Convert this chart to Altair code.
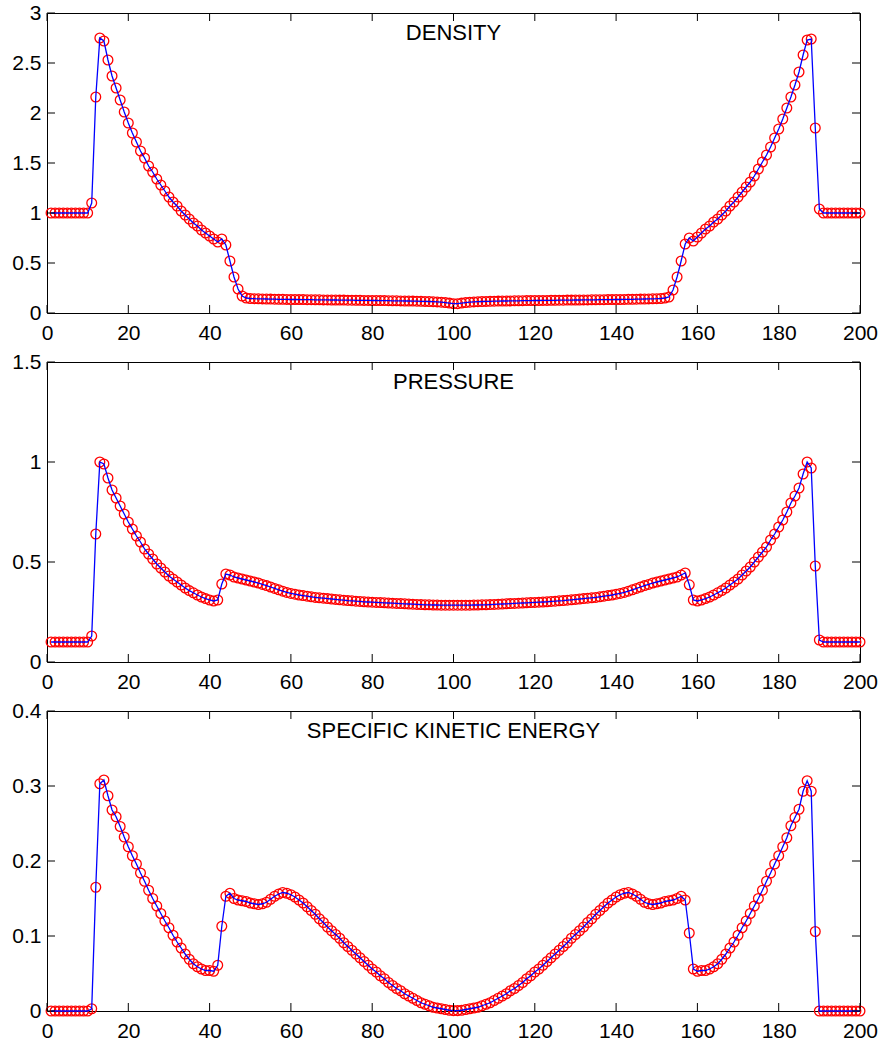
import altair as alt
import pandas as pd

# ---------------- data ----------------
x_vals = list(range(1, 201))

density = [
    1.0, 1.0, 1.0, 1.0, 1.0, 1.0, 1.0, 1.0, 1.0, 1.0,
    1.10, 2.16, 2.75, 2.72, 2.53, 2.37, 2.25, 2.13, 2.01, 1.90,
    1.80, 1.71, 1.62, 1.55, 1.47, 1.41, 1.34, 1.28, 1.22, 1.16,
    1.11, 1.07, 1.02, 0.98, 0.94, 0.90, 0.87, 0.83, 0.80, 0.77,
    0.74, 0.71, 0.74, 0.68, 0.52, 0.36, 0.24, 0.17, 0.15, 0.145,
    0.143, 0.142, 0.141, 0.140, 0.139, 0.138, 0.137, 0.137, 0.136, 0.135,
    0.135, 0.134, 0.134, 0.133, 0.133, 0.132, 0.132, 0.131, 0.131, 0.130,
    0.130, 0.129, 0.129, 0.128, 0.128, 0.127, 0.127, 0.126, 0.126, 0.125,
    0.125, 0.124, 0.124, 0.123, 0.122, 0.122, 0.121, 0.120, 0.120, 0.119,
    0.118, 0.117, 0.116, 0.115, 0.113, 0.111, 0.108, 0.104, 0.099, 0.093,
    0.093, 0.099, 0.104, 0.108, 0.111, 0.113, 0.115, 0.116, 0.117, 0.118,
    0.119, 0.120, 0.120, 0.121, 0.122, 0.122, 0.123, 0.124, 0.124, 0.125,
    0.125, 0.126, 0.126, 0.127, 0.127, 0.128, 0.128, 0.129, 0.129, 0.130,
    0.130, 0.131, 0.131, 0.132, 0.132, 0.133, 0.133, 0.134, 0.134, 0.135,
    0.135, 0.136, 0.137, 0.137, 0.138, 0.139, 0.140, 0.141, 0.142, 0.143,
    0.145, 0.15, 0.16, 0.23, 0.36, 0.52, 0.69, 0.75, 0.72, 0.76,
    0.80, 0.84, 0.87, 0.91, 0.94, 0.98, 1.02, 1.07, 1.11, 1.16,
    1.21, 1.26, 1.31, 1.37, 1.44, 1.51, 1.58, 1.66, 1.75, 1.84,
    1.94, 2.05, 2.16, 2.28, 2.41, 2.58, 2.73, 2.74, 1.85, 1.04,
    1.0, 1.0, 1.0, 1.0, 1.0, 1.0, 1.0, 1.0, 1.0, 1.0,
]

pressure = [
    0.10, 0.10, 0.10, 0.10, 0.10, 0.10, 0.10, 0.10, 0.10, 0.10,
    0.13, 0.64, 1.00, 0.99, 0.92, 0.86, 0.82, 0.78, 0.74, 0.70,
    0.665, 0.63, 0.60, 0.565, 0.54, 0.515, 0.49, 0.47, 0.45, 0.43,
    0.415, 0.40, 0.385, 0.37, 0.357, 0.346, 0.335, 0.325, 0.317, 0.31,
    0.305, 0.31, 0.39, 0.44, 0.435, 0.425, 0.42, 0.415, 0.41, 0.405,
    0.40, 0.395, 0.388, 0.382, 0.375, 0.368, 0.361, 0.354, 0.348, 0.343,
    0.339, 0.335, 0.332, 0.329, 0.326, 0.323, 0.321, 0.319, 0.317, 0.315,
    0.313, 0.311, 0.309, 0.307, 0.306, 0.304, 0.303, 0.301, 0.300, 0.299,
    0.298, 0.297, 0.296, 0.295, 0.294, 0.293, 0.292, 0.291, 0.290, 0.289,
    0.288, 0.287, 0.286, 0.286, 0.285, 0.285, 0.284, 0.284, 0.284, 0.284,
    0.284, 0.284, 0.284, 0.284, 0.285, 0.285, 0.286, 0.286, 0.287, 0.288,
    0.289, 0.290, 0.291, 0.292, 0.293, 0.294, 0.295, 0.296, 0.297, 0.298,
    0.299, 0.300, 0.301, 0.303, 0.304, 0.306, 0.307, 0.309, 0.311, 0.313,
    0.315, 0.317, 0.319, 0.321, 0.323, 0.326, 0.329, 0.332, 0.335, 0.339,
    0.343, 0.348, 0.354, 0.361, 0.368, 0.375, 0.382, 0.388, 0.395, 0.40,
    0.405, 0.41, 0.415, 0.42, 0.425, 0.435, 0.445, 0.386, 0.31, 0.305,
    0.31, 0.317, 0.325, 0.335, 0.346, 0.357, 0.37, 0.385, 0.40, 0.415,
    0.435, 0.455, 0.475, 0.50, 0.525, 0.55, 0.575, 0.61, 0.64, 0.675,
    0.71, 0.75, 0.795, 0.83, 0.87, 0.94, 1.00, 0.97, 0.48, 0.11,
    0.10, 0.10, 0.10, 0.10, 0.10, 0.10, 0.10, 0.10, 0.10, 0.10,
]

kinetic = [
    0.0, 0.0, 0.0, 0.0, 0.0, 0.0, 0.0, 0.0, 0.0, 0.0,
    0.003, 0.165, 0.303, 0.308, 0.287, 0.268, 0.259, 0.246, 0.232, 0.219,
    0.207, 0.196, 0.184, 0.173, 0.161, 0.150, 0.140, 0.130, 0.120, 0.111,
    0.101, 0.092, 0.084, 0.076, 0.069, 0.063, 0.059, 0.056, 0.054, 0.054,
    0.053, 0.061, 0.113, 0.153, 0.157, 0.150, 0.148, 0.147, 0.146, 0.144,
    0.143, 0.142, 0.143, 0.145, 0.149, 0.153, 0.156, 0.158, 0.157, 0.155,
    0.152, 0.148, 0.144, 0.139, 0.134, 0.129, 0.123, 0.118, 0.112, 0.107,
    0.102, 0.097, 0.091, 0.086, 0.081, 0.076, 0.071, 0.066, 0.061, 0.056,
    0.052, 0.047, 0.043, 0.038, 0.034, 0.030, 0.027, 0.023, 0.020, 0.017,
    0.014, 0.011, 0.009, 0.007, 0.005, 0.004, 0.003, 0.002, 0.001, 0.0005,
    0.0005, 0.001, 0.002, 0.003, 0.004, 0.005, 0.007, 0.009, 0.011, 0.014,
    0.017, 0.020, 0.023, 0.027, 0.030, 0.034, 0.038, 0.043, 0.047, 0.052,
    0.056, 0.061, 0.066, 0.071, 0.076, 0.081, 0.086, 0.091, 0.097, 0.102,
    0.107, 0.112, 0.118, 0.123, 0.129, 0.134, 0.139, 0.144, 0.148, 0.152,
    0.155, 0.157, 0.158, 0.156, 0.153, 0.149, 0.145, 0.143, 0.142, 0.143,
    0.144, 0.146, 0.147, 0.148, 0.150, 0.153, 0.148, 0.104, 0.056, 0.053,
    0.054, 0.054, 0.056, 0.059, 0.063, 0.069, 0.076, 0.084, 0.092, 0.101,
    0.111, 0.120, 0.130, 0.140, 0.150, 0.161, 0.173, 0.184, 0.196, 0.207,
    0.219, 0.231, 0.247, 0.258, 0.269, 0.293, 0.307, 0.293, 0.106, 0.0,
    0.0, 0.0, 0.0, 0.0, 0.0, 0.0, 0.0, 0.0, 0.0, 0.0,
]

x_ticks = [0, 20, 40, 60, 80, 100, 120, 140, 160, 180, 200]
density_ticks = [0, 0.5, 1, 1.5, 2, 2.5, 3]
pressure_ticks = [0, 0.5, 1, 1.5]
kinetic_ticks = [0, 0.1, 0.2, 0.3, 0.4]
titles = ["DENSITY", "PRESSURE", "SPECIFIC KINETIC ENERGY"]

# ---------------- styling ----------------
W, H = 813, 300
TICK = 8
FONT = "Liberation Sans"


def panel(values, yticks, ymax, title):
    df = pd.DataFrame({"x": x_vals, "v": values})
    X = alt.X(
        "x:Q",
        scale=alt.Scale(domain=[0, 200], nice=False, zero=False),
        axis=alt.Axis(values=x_ticks, title=None, grid=False, domain=False,
                      ticks=False, tickSize=0, labelPadding=9, labelFontSize=21,
                      labelFont=FONT, labelColor="black", format="d",
                      labelFlush=False, labelOverlap=False),
    )
    Y = alt.Y(
        "v:Q",
        scale=alt.Scale(domain=[0, ymax], nice=False, zero=True),
        axis=alt.Axis(values=yticks, title=None, grid=False, domain=False,
                      ticks=False, tickSize=0, labelPadding=6, labelFontSize=21,
                      labelFont=FONT, labelColor="black", format="~g",
                      labelFlush=False, labelOverlap=False,
                      minExtent=36, maxExtent=36),
    )
    pts = alt.Chart(df).mark_point(
        shape="circle", filled=False, color="#ff0000", size=95,
        strokeWidth=1.3, opacity=1
    ).encode(x=X, y=Y)
    line = alt.Chart(df).mark_line(color="#0000ff", strokeWidth=1.3).encode(x=X, y=Y)

    xt = pd.DataFrame({"x": x_ticks})
    yt = pd.DataFrame({"v": yticks})
    xb = alt.Chart(xt).mark_rule(color="black", strokeWidth=1).encode(
        x=X, y=alt.value(H), y2=alt.value(H - TICK))
    xtop = alt.Chart(xt).mark_rule(color="black", strokeWidth=1).encode(
        x=X, y=alt.value(0), y2=alt.value(TICK))
    yl = alt.Chart(yt).mark_rule(color="black", strokeWidth=1).encode(
        y=Y, x=alt.value(0), x2=alt.value(TICK))
    yr = alt.Chart(yt).mark_rule(color="black", strokeWidth=1).encode(
        y=Y, x=alt.value(W - TICK), x2=alt.value(W))
    txt = alt.Chart(pd.DataFrame({"t": [title]})).mark_text(
        font=FONT, fontSize=22, baseline="alphabetic", align="center", color="black"
    ).encode(text="t:N", x=alt.value(W / 2), y=alt.value(27))
    return alt.layer(pts, line, xb, xtop, yl, yr, txt).properties(width=W, height=H)


p1 = panel(density, density_ticks, 3, titles[0])
p2 = panel(pressure, pressure_ticks, 1.5, titles[1])
p3 = panel(kinetic, kinetic_ticks, 0.4, titles[2])

chart = alt.vconcat(p1, p2, p3, spacing=6).properties(
    padding={"left": 10, "top": 1, "right": 2, "bottom": 0},
    background="white",
).configure_view(stroke="black", strokeWidth=1)

chart.save("out.html", embed_options={"renderer": "svg", "actions": False})
